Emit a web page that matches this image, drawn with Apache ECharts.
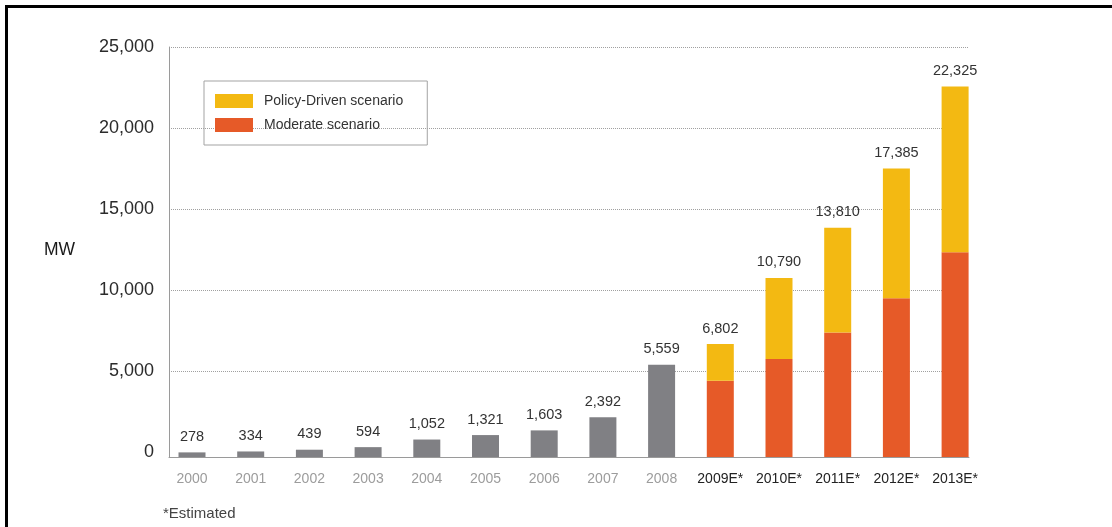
<!DOCTYPE html>
<html>
<head>
<meta charset="utf-8">
<title>Installed wind capacity, MW</title>
<script src="https://cdn.jsdelivr.net/npm/echarts@6/dist/echarts.min.js"></script>
<style>
  html, body { margin: 0; padding: 0; background: #ffffff; }
  #chart { width: 1112px; height: 527px; }
</style>
</head>
<body>
<div id="chart"></div>
<script>
// Years on the horizontal axis; the last five are estimates
const categories = ['2000', '2001', '2002', '2003', '2004', '2005', '2006', '2007', '2008',
  '2009E*', '2010E*', '2011E*', '2012E*', '2013E*'];
const historicalCount = 9;

// Installed capacity 2000–2008 (MW)
const installed = [278, 334, 439, 594, 1052, 1321, 1603, 2392, 5559];

// Estimated totals under the policy-driven scenario (MW)
const policyTotals = [6802, 10790, 13810, 17385, 22325];

// Estimated capacity under the moderate scenario (MW)
const moderate = [4600, 5900, 7500, 9560, 12330];

// Y-axis ticks
const yTicks = [0, 5000, 10000, 15000, 20000, 25000];

const FONT = '"Liberation Sans", Arial, Helvetica, sans-serif';
const GRAY = '#808084';
const RED = '#E65A28';
const YELLOW = '#F3B912';

const fmt = v => Number(v).toLocaleString('en-US');

const pad = n => new Array(n).fill('-');
const grayData = installed.concat(pad(categories.length - historicalCount));
const moderateData = pad(historicalCount).concat(moderate);
const policyData = pad(historicalCount).concat(policyTotals.map((t, i) => t - moderate[i]));

const chart = echarts.init(document.getElementById('chart'), null, { renderer: 'canvas' });

chart.setOption({
  animation: false,
  backgroundColor: '#ffffff',
  textStyle: { fontFamily: FONT },
  grid: [
    // value scale, tick labels and dotted gridlines
    { left: 169, top: 47, width: 800, height: 405 },
    // axis frame lines
    { left: 169, top: 47, width: 800, height: 410 },
    // bars
    { left: 162.65, top: 42, width: 821.8, height: 415 }
  ],
  xAxis: [
    { gridIndex: 0, type: 'value', min: 0, max: 1, show: false },
    {
      gridIndex: 1, type: 'value', min: 0, max: 1,
      axisLine: { show: true, lineStyle: { color: '#9a9a9a', width: 1 } },
      axisTick: { show: false }, axisLabel: { show: false }, splitLine: { show: false }
    },
    {
      gridIndex: 2, type: 'category', data: categories,
      axisLine: { show: false }, axisTick: { show: false },
      axisLabel: {
        interval: 0, margin: 15, fontSize: 14, fontFamily: FONT,
        color: (value, index) => index < historicalCount ? '#9c9c9c' : '#222222'
      }
    }
  ],
  yAxis: [
    {
      gridIndex: 0, type: 'value', min: yTicks[0], max: yTicks[yTicks.length - 1],
      interval: yTicks[1] - yTicks[0],
      axisLine: { show: false }, axisTick: { show: false },
      axisLabel: { margin: 15, fontSize: 18, color: '#2b2b2b', fontFamily: FONT, formatter: v => fmt(v) },
      splitLine: { show: true, showMinLine: false, lineStyle: { color: '#a0a0a0', type: [1, 1], width: 1 } }
    },
    {
      gridIndex: 1, type: 'value', min: 0, max: 1,
      axisLine: { show: true, lineStyle: { color: '#9a9a9a', width: 1 } },
      axisTick: { show: false }, axisLabel: { show: false }, splitLine: { show: false }
    },
    {
      gridIndex: 2, type: 'value', min: 0, max: 25000, show: false, splitLine: { show: false }
    }
  ],
  legend: {
    data: ['Policy-Driven scenario', 'Moderate scenario'],
    orient: 'vertical',
    left: 204, top: 81,
    padding: [13, 24, 13, 11],
    borderColor: '#a3a3a3', borderWidth: 1,
    itemWidth: 38, itemHeight: 14, itemGap: 10,
    icon: 'rect',
    textStyle: { fontSize: 14, color: '#333333', fontFamily: FONT, padding: [1, 0, 0, 6] }
  },
  series: [
    {
      name: 'Installed', type: 'bar', xAxisIndex: 2, yAxisIndex: 2, stack: 'mw',
      barWidth: 27, data: grayData,
      itemStyle: { color: GRAY },
      label: {
        show: true, position: 'top', distance: 8, fontSize: 14.5, color: '#333333', fontFamily: FONT,
        formatter: p => fmt(p.value)
      }
    },
    {
      name: 'Moderate scenario', type: 'bar', xAxisIndex: 2, yAxisIndex: 2, stack: 'mw',
      barWidth: 27, data: moderateData,
      itemStyle: { color: RED }
    },
    {
      name: 'Policy-Driven scenario', type: 'bar', xAxisIndex: 2, yAxisIndex: 2, stack: 'mw',
      barWidth: 27, data: policyData,
      itemStyle: { color: YELLOW },
      label: {
        show: true, position: 'top', distance: 8, fontSize: 14.5, color: '#333333', fontFamily: FONT,
        formatter: p => fmt(policyTotals[p.dataIndex - historicalCount])
      }
    }
  ],
  graphic: [
    {
      type: 'rect', silent: true,
      shape: { x: 6.5, y: 6.5, width: 1300, height: 700 },
      style: { fill: 'none', stroke: '#000000', lineWidth: 3 }
    },
    {
      type: 'text', left: 44, top: 241,
      style: { text: 'MW', fontSize: 17.5, fill: '#1a1a1a', fontFamily: FONT }
    },
    {
      type: 'text', left: 163, top: 506,
      style: { text: '*Estimated', fontSize: 15, fill: '#444444', fontFamily: FONT }
    }
  ]
});
</script>
</body>
</html>
